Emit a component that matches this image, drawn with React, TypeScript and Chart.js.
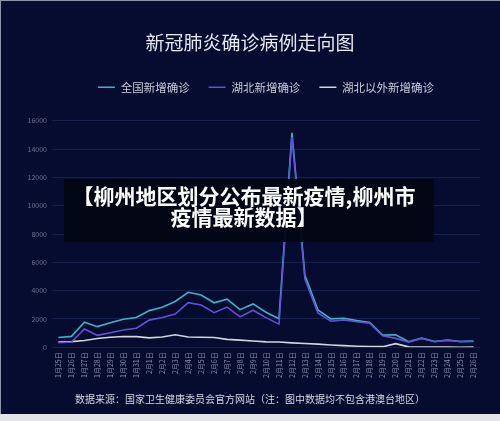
import React, { useEffect, useRef } from 'react';
import { Chart, registerables } from 'chart.js';

Chart.register(...registerables);

const FONT = '"Noto Sans CJK SC", "Noto Sans", sans-serif';

const dates = [
  '1月25日', '1月26日', '1月27日', '1月28日', '1月29日', '1月30日', '1月31日',
  '2月1日', '2月2日', '2月3日', '2月4日', '2月5日', '2月6日', '2月7日', '2月8日',
  '2月9日', '2月10日', '2月11日', '2月12日', '2月13日', '2月14日', '2月15日',
  '2月16日', '2月17日', '2月18日', '2月19日', '2月20日', '2月21日', '2月22日',
  '2月23日', '2月24日', '2月25日', '2月26日',
];

const national = [
  688, 769, 1771, 1459, 1737, 1982, 2102,
  2590, 2829, 3235, 3887, 3694, 3143, 3399, 2656,
  3062, 2478, 2015, 15152, 5090, 2641, 2009,
  2048, 1886, 1749, 860, 889, 397, 648,
  409, 508, 406, 433,
];

const hubei = [
  323, 371, 1291, 840, 1032, 1220, 1347,
  1921, 2103, 2345, 3156, 2987, 2447, 2841, 2147,
  2618, 2097, 1638, 14840, 4823, 2420, 1843,
  1933, 1807, 1693, 815, 631, 366, 630,
  398, 499, 401, 409,
];

const outside = [
  365, 398, 480, 619, 705, 762, 755,
  669, 726, 890, 731, 707, 696, 558, 509,
  444, 381, 377, 312, 267, 221, 166,
  115, 79, 56, 45, 258, 31, 18,
  11, 9, 5, 24,
];

const seriesNames = ['全国新增确诊', '湖北新增确诊', '湖北以外新增确诊'];
const yMax = 16000;
const yStep = 2000;

const titleText = '新冠肺炎确诊病例走向图';
const footerText = '数据来源：国家卫生健康委员会官方网站（注：图中数据均不包含港澳台地区）';
const bannerLines = ['【柳州地区划分公布最新疫情,柳州市', '疫情最新数据】'];

export default function App() {
  const ref = useRef<HTMLCanvasElement>(null);

  useEffect(() => {
    if (!ref.current) return;
    const legendTweak = {
      id: 'legendTweak',
      afterInit(chart: any) {
        const lg = chart.legend;
        if (!lg || lg._patched) return;
        const fit = lg.fit;
        lg.fit = function () {
          fit.call(this);
          this.height += 17.7;
        };
        lg._patched = true;
      },
      afterLayout(chart: any) {
        const lg = chart.legend;
        if (lg) {
          lg.left += 16;
          lg.right += 16;
        }
      },
    };

    const chart = new Chart(ref.current, {
      type: 'line',
      data: {
        labels: dates,
        datasets: [
          {
            label: seriesNames[0],
            data: national,
            borderColor: '#3cb4c8',
            backgroundColor: '#3cb4c8',
            borderWidth: 1.6,
            pointRadius: 0,
            tension: 0,
            order: 1,
          },
          {
            label: seriesNames[1],
            data: hubei,
            borderColor: '#6550d4',
            backgroundColor: '#6550d4',
            borderWidth: 1.6,
            pointRadius: 0,
            tension: 0,
            order: 0,
          },
          {
            label: seriesNames[2],
            data: outside,
            borderColor: '#d2d4de',
            backgroundColor: '#d2d4de',
            borderWidth: 1.6,
            pointRadius: 0,
            tension: 0,
            order: 2,
          },
        ],
      },
      options: {
        responsive: false,
        animation: false,
        layout: { padding: 0 },
        plugins: {
          title: {
            display: true,
            text: titleText,
            color: '#e6e8f0',
            font: { size: 19, family: FONT, weight: 'normal' },
            padding: { top: 31.6, bottom: 8.1 },
          },
          subtitle: {
            display: true,
            position: 'bottom',
            text: footerText,
            color: '#d4d6e2',
            font: { size: 10, family: FONT, weight: 'normal' },
            padding: { top: 0, bottom: 9 },
          },
          legend: {
            display: true,
            labels: {
              usePointStyle: true,
              pointStyle: 'line',
              pointStyleWidth: 17,
              boxHeight: 11.5,
              color: '#c8cbd8',
              font: { size: 11.5, family: FONT },
              padding: 19,
              sort: (a: any, b: any) => a.datasetIndex - b.datasetIndex,
            },
          },
          tooltip: { enabled: false },
        },
        scales: {
          x: {
            offset: true,
            grid: { display: false, drawTicks: false },
            border: { display: false },
            ticks: {
              autoSkip: false,
              maxRotation: 90,
              minRotation: 90,
              color: '#8a90aa',
              font: { size: 7, family: FONT },
              padding: 5,
            },
            afterFit(s: any) {
              s.height = 45.7;
            },
          },
          y: {
            min: 0,
            max: yMax,
            grid: { color: 'rgba(70,90,160,0.25)', drawTicks: false, lineWidth: 1 },
            border: { display: false },
            ticks: {
              stepSize: yStep,
              color: '#6b7192',
              font: { size: 7, family: FONT },
              padding: 5,
              callback: (v: any) => String(v),
            },
            afterFit(s: any) {
              s.width = 52;
            },
          },
          yR: {
            type: 'linear',
            position: 'right',
            display: true,
            grid: { display: false, drawTicks: false },
            border: { display: false },
            ticks: { display: false },
            afterFit(s: any) {
              s.width = 20;
            },
          },
        },
      } as any,
      plugins: [legendTweak as any],
    });
    return () => chart.destroy();
  }, []);

  return (
    <div style={{ position: 'absolute', left: 0, top: 0, width: 500, height: 421, background: '#e2e4ea', overflow: 'hidden' }}>
      <div style={{ position: 'absolute', left: 0, top: 0, width: 500, height: 414, background: '#050c2f' }}>
        <canvas ref={ref} width={500} height={414} style={{ display: 'block' }} />
      </div>
      <div
        style={{
          position: 'absolute', left: 0, top: 0, width: 500, height: 414, boxSizing: 'border-box',
          borderLeft: '1px solid #8e94aa', borderTop: '1px solid #8e94aa', pointerEvents: 'none',
        }}
      />
      <div
        style={{
          position: 'absolute', left: 64, top: 179, width: 370, height: 63, boxSizing: 'border-box',
          background: 'rgba(2,5,18,0.93)', color: '#ffffff', fontFamily: FONT, fontWeight: 700,
          fontSize: 21, lineHeight: '21px', textAlign: 'center', paddingTop: 6, paddingRight: 10,
          whiteSpace: 'nowrap',
        }}
      >
        <div>{bannerLines[0]}</div>
        <div>{bannerLines[1]}</div>
      </div>
    </div>
  );
}
